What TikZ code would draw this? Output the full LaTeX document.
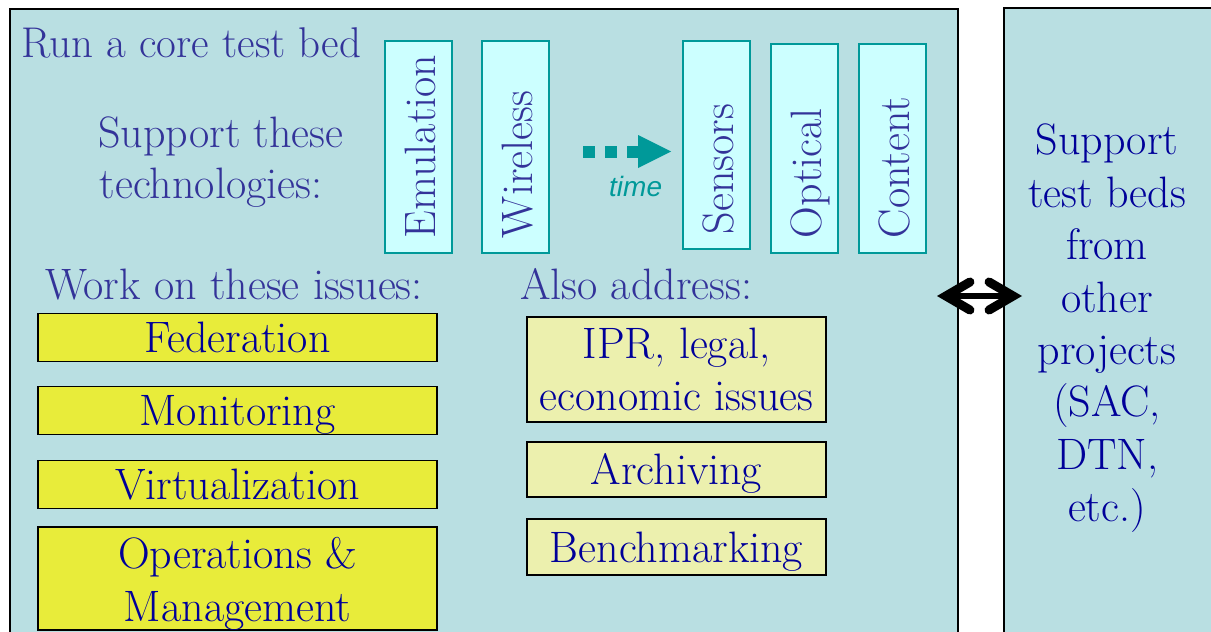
\documentclass[tikz,border=0pt]{standalone}
\usepackage{fontspec}
\newfontfamily\arialfont{Liberation Sans}
\usetikzlibrary{arrows.meta}
\definecolor{panelbg}{HTML}{B9DFE2}
\definecolor{titleblue}{HTML}{333399}
\definecolor{boxblue}{HTML}{000099}
\definecolor{techfill}{HTML}{CCFFFF}
\definecolor{techline}{HTML}{009999}
\definecolor{issuefill}{HTML}{E8EC3A}
\definecolor{alsofill}{HTML}{ECF0AE}
\tikzset{
  big/.style={font=\rmfamily\fontsize{44}{52.4}\selectfont\addfontfeature{FakeBold=3}},
  head/.style={big, text=titleblue, inner sep=0pt, anchor=base west},
  panel/.style={draw=black, line width=2pt, fill=panelbg, inner sep=0pt, anchor=north west},
  tech/.style={draw=techline, line width=2pt, fill=techfill, big, text=titleblue, rotate=90,
    inner xsep=15pt, inner ysep=0pt, align=left, text height=34pt, text depth=0pt, minimum height=67pt},
  issue/.style={draw=black, line width=1.5pt, fill=issuefill, big, text=boxblue,
    minimum width=399pt, inner sep=0pt, align=center},
  also/.style={draw=black, line width=1.5pt, fill=alsofill, big, text=boxblue,
    minimum width=299pt, inner sep=0pt, align=center},
  oneline/.style={text height=30pt, text depth=0pt},
  timedash/.style={draw=techline, line width=12pt, dash pattern=on 11.5pt off 10.5pt},
  dblarrow/.style={line width=6pt,
    {Straight Barb[length=24pt, width=28pt, line width=9pt, line cap=round, line join=miter]}-{Straight Barb[length=24pt, width=28pt, line width=9pt, line cap=round, line join=miter]}},
}
\begin{document}
\begin{tikzpicture}[x=1pt,y=-1pt]
\useasboundingbox (0,0) rectangle (1211,632);
\fill[white] (0,0) rectangle (1211,632);

% panels
\node[panel, minimum width=948pt, minimum height=640pt] (main) at (9,8) {};
\node[panel, minimum width=220pt, minimum height=640pt] (side) at (1003,7) {};

% headings
\node[head, font=\rmfamily\fontsize{43}{52.4}\selectfont\addfontfeature{FakeBold=3}] (title) at (21.5,57) {Run a core test bed};
\node[head] (sup1) at (98,147) {Support these};
\node[head] (sup2) at (99.5,198) {technologies:};
\node[head] (work) at (45,299) {Work on these issues:};
\node[head] (alsoh) at (520,299) {Also address:};

% technologies
\node[tech, text width=182pt] (emu) at (418.5,147) {Emulation};
\node[tech, text width=182pt] (wire) at (515.5,147) {Wireless};
\node[tech, text width=178pt] (sens) at (716,145) {Sensors};
\node[tech, text width=179pt] (opt) at (804,148.5) {Optical};
\node[tech, text width=179pt] (cont) at (892.5,148.5) {Content};

% time arrow
\coordinate (ts) at (583,151.5);
\coordinate (tm) at (639,151.5);
\coordinate (te) at (671,151.5);
\draw[timedash] (ts) -- (tm);
\fill[techline] (638,135) -- (te) -- (638,168) -- cycle;
\node[anchor=base west, font=\arialfont\itshape\fontsize{28}{30}\selectfont, text=techline, inner sep=0pt] (time) at (609,196.7) {time};

% issues
\node[issue, oneline, minimum height=48pt] (fed) at (237.5,337.5) {Federation};
\node[issue, oneline, minimum height=48pt] (mon) at (237.5,410.5) {Monitoring};
\node[issue, oneline, minimum height=48pt] (virt) at (237.5,484.5) {Virtualization};
\node[issue, minimum height=95pt] (ops) at (237.5,578.5) {\rule{0pt}{42pt}Operations \&\\Management};

% also address
\node[also, minimum height=105pt] (ipr) at (676.5,369.5) {IPR, legal,\\economic issues};
\node[also, oneline, minimum height=55pt] (arch) at (676.5,469.5) {Archiving};
\node[also, oneline, minimum height=56pt] (bench) at (676.5,547) {Benchmarking};

% right panel text
\node[big, text=boxblue, align=center, inner sep=0pt] (sidetext) at (1107,328.5)
  {Support\\test beds\\from\\other\\projects\\(SAC,\\DTN,\\etc.)};

% double arrow
\coordinate (la) at (937,296);
\coordinate (ra) at (1022,296);
\draw[dblarrow] (la) -- (ra);
\end{tikzpicture}
\end{document}
